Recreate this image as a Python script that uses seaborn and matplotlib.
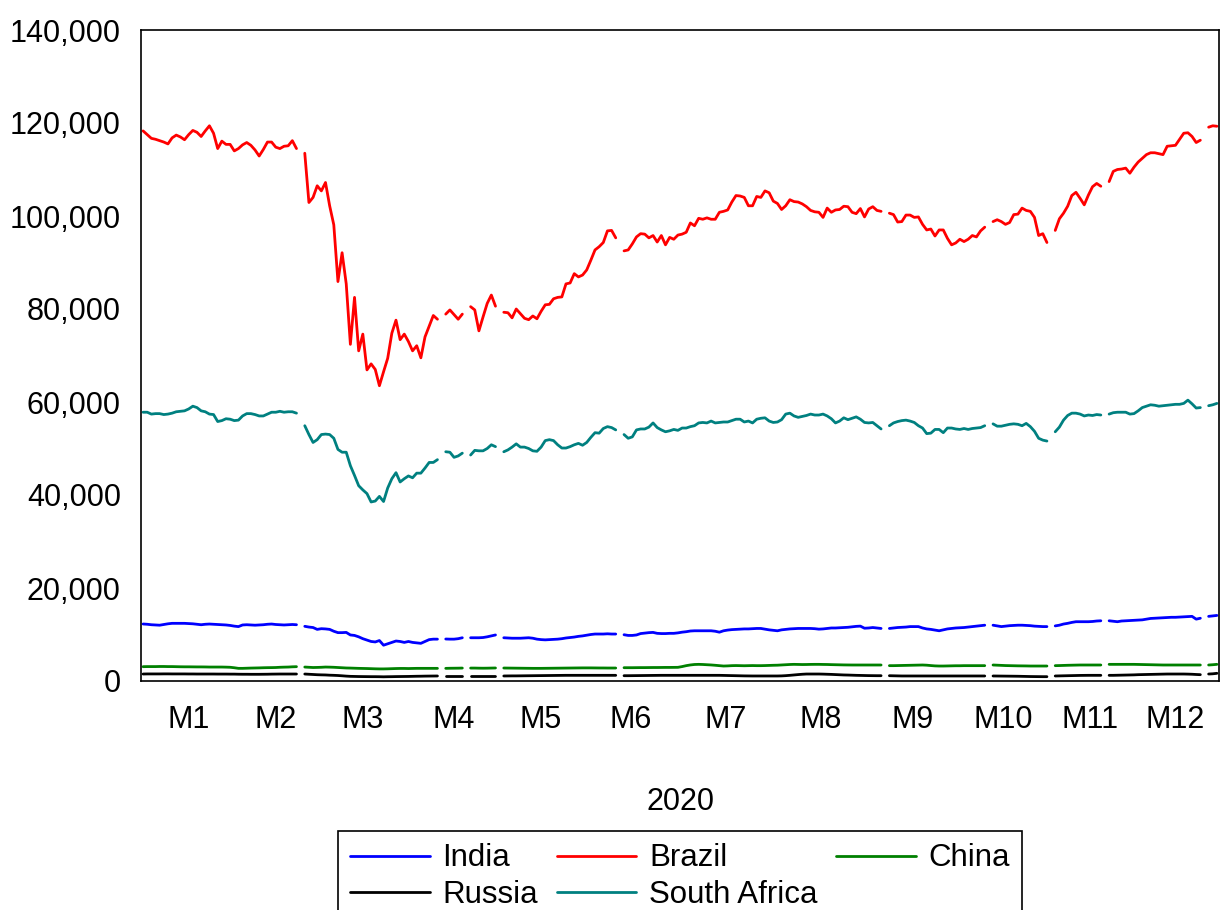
import numpy as np
import pandas as pd
import matplotlib
matplotlib.use("Agg")
import matplotlib.pyplot as plt
import seaborn as sns
from matplotlib.ticker import FuncFormatter
from matplotlib.lines import Line2D

nan = np.nan

# ---------------- data ----------------
month_labels = ["M1", "M2", "M3", "M4", "M5", "M6", "M7", "M8", "M9", "M10", "M11", "M12"]
month_obs = [23, 19, 23, 21, 21, 22, 24, 22, 22, 22, 20, 21]   # observations per month
year_label = "2020"
countries = ["India", "Brazil", "China", "Russia", "South Africa"]
colors = {"India": "#0000ff", "Brazil": "#ff0000", "China": "#008000",
          "Russia": "#000000", "South Africa": "#008080"}

# values in thousands of index points (nan = market holiday)
brazil = [
    118.3, 117.5, 116.7, 116.5, 116.2, 115.9, 115.5, 116.8, 117.4, 117.0,
    116.4, 117.5, 118.4, 118.0, 117.1, 118.3, 119.4, 117.8, 114.5, 116.1,
    115.4, 115.4, 114.0, 114.5, 115.3, 115.8, 115.2, 114.2, 112.9, 114.3,
    115.9, 115.9, 114.8, 114.5, 115.0, 115.1, 116.2, 114.5, nan, 113.5,
    102.9, 104.0, 106.5, 105.4, 107.2, 102.2, 98.1, 85.9, 92.1, 85.4,
    72.4, 82.5, 71.0, 74.6, 66.9, 68.2, 67.0, 63.5, 66.5, 69.4,
    74.8, 77.6, 73.4, 74.6, 73.0, 71.0, 72.1, 69.5, 74.0, 76.3,
    78.6, 77.8, nan, 78.9, 79.8, 78.8, 77.8, 78.9, nan, 80.5,
    79.8, 75.3, 78.3, 81.2, 83.0, 80.6, nan, 79.3, 79.2, 78.1,
    80.0, 79.0, 78.0, 77.7, 78.5, 77.9, 79.5, 80.9, 81.0, 82.2,
    82.5, 82.6, 85.4, 85.6, 87.6, 86.9, 87.3, 88.4, 90.5, 92.7,
    93.4, 94.3, 96.8, 96.9, 95.3, nan, 92.5, 92.7, 94.0, 95.5,
    96.2, 96.1, 95.3, 95.8, 94.4, 95.8, 93.8, 95.4, 95.0, 95.9,
    96.1, 96.5, 98.5, 97.9, 99.5, 99.3, 99.6, 99.3, 99.3, 100.8,
    101.0, 101.3, 103.0, 104.4, 104.3, 104.0, 102.2, 102.2, 104.2, 104.0,
    105.4, 105.0, 103.2, 102.7, 101.4, 102.2, 103.5, 103.1, 103.0, 102.6,
    102.0, 101.2, 100.9, 100.8, 99.7, 101.7, 100.8, 101.3, 101.4, 102.1,
    102.0, 100.8, 100.5, 101.6, 99.8, 101.5, 102.0, 101.2, 101.0, nan,
    100.6, 100.3, 98.7, 98.8, 100.2, 100.2, 99.7, 99.8, 98.2, 97.0,
    97.2, 95.7, 97.0, 97.0, 95.2, 93.8, 94.2, 95.0, 94.5, 95.0,
    95.8, 95.5, 96.8, 97.6, nan, 98.8, 99.2, 98.8, 98.2, 98.6,
    100.3, 100.4, 101.7, 101.2, 101.0, 99.7, 95.8, 96.2, 94.3, nan,
    96.9, 99.4, 100.6, 102.1, 104.4, 105.1, 103.8, 102.4, 104.5, 106.3,
    107.0, 106.4, nan, 107.4, 109.6, 110.0, 110.1, 110.3, 109.2, 110.5,
    111.6, 112.4, 113.2, 113.6, 113.6, 113.4, 113.2, 115.0, 115.1, 115.2,
    116.5, 117.8, 117.9, 117.1, 115.8, 116.3, nan, 119.1, 119.4, 119.3,
]

south_africa = [
    57.8, 57.8, 57.4, 57.5, 57.5, 57.3, 57.4, 57.6, 57.9, 58.0,
    58.1, 58.5, 59.1, 58.8, 58.1, 57.9, 57.4, 57.3, 55.8, 56.0,
    56.4, 56.3, 56.0, 56.1, 57.0, 57.5, 57.5, 57.3, 57.0, 57.0,
    57.4, 57.8, 57.8, 58.0, 57.8, 57.9, 57.9, 57.6, nan, 54.9,
    53.0, 51.3, 51.9, 53.0, 53.1, 53.0, 52.2, 49.8, 49.2, 49.2,
    46.3, 44.2, 42.0, 41.1, 40.3, 38.5, 38.7, 39.7, 38.6, 41.5,
    43.5, 44.8, 42.8, 43.5, 44.1, 43.7, 44.7, 44.7, 45.8, 47.0,
    47.0, 47.6, nan, 49.3, 49.2, 48.1, 48.4, 49.0, nan, 48.6,
    49.6, 49.5, 49.5, 50.0, 50.8, 50.4, nan, 49.3, 49.7, 50.3,
    51.0, 50.3, 50.3, 50.0, 49.5, 49.4, 50.3, 51.7, 51.9, 51.7,
    50.8, 50.1, 50.1, 50.4, 50.8, 51.1, 50.7, 51.3, 52.4, 53.4,
    53.3, 54.3, 54.7, 54.5, 54.0, nan, 53.0, 52.2, 52.5, 54.0,
    54.2, 54.2, 54.6, 55.5, 54.5, 54.0, 53.6, 53.8, 54.1, 53.9,
    54.4, 54.4, 54.7, 54.9, 55.5, 55.6, 55.5, 55.9, 55.5, 55.6,
    55.7, 55.7, 56.0, 56.3, 56.3, 55.7, 55.9, 55.5, 56.3, 56.5,
    56.6, 55.9, 55.6, 55.7, 56.2, 57.4, 57.6, 57.0, 56.7, 56.9,
    57.1, 57.4, 57.2, 57.2, 57.4, 57.0, 56.4, 55.5, 55.9, 56.6,
    56.2, 56.5, 56.8, 56.3, 55.6, 55.5, 55.6, 54.9, 54.2, nan,
    54.9, 55.5, 55.8, 56.0, 56.1, 55.9, 55.6, 54.9, 54.4, 53.2,
    53.3, 54.1, 54.1, 53.4, 54.4, 54.4, 54.2, 54.1, 54.3, 54.1,
    54.3, 54.4, 54.5, 54.9, nan, 55.3, 54.8, 54.8, 55.0, 55.2,
    55.3, 55.2, 54.9, 55.4, 54.7, 53.7, 52.2, 51.8, 51.6, nan,
    53.6, 54.6, 56.1, 57.1, 57.6, 57.6, 57.4, 57.0, 57.2, 57.1,
    57.3, 57.2, nan, 57.4, 57.7, 57.8, 57.8, 57.8, 57.4, 57.5,
    58.1, 58.8, 59.1, 59.4, 59.3, 59.1, 59.2, 59.3, 59.4, 59.5,
    59.5, 59.7, 60.4, 59.6, 58.7, 58.8, nan, 59.2, 59.4, 59.7,
]

india = [
    12.26, 12.2, 12.1, 12.05, 12.0, 12.15, 12.3, 12.4, 12.4, 12.4,
    12.4, 12.35, 12.3, 12.2, 12.1, 12.2, 12.25, 12.2, 12.15, 12.1,
    12.05, 11.95, 11.8, 11.7, 12.05, 12.1, 12.05, 12.0, 12.05, 12.1,
    12.2, 12.25, 12.15, 12.1, 12.05, 12.1, 12.15, 12.1, nan, 11.76,
    11.6, 11.5, 11.1, 11.25, 11.2, 11.1, 10.7, 10.4, 10.4, 10.45,
    9.9, 9.8, 9.5, 9.1, 8.8, 8.5, 8.4, 8.7, 7.7, 8.0,
    8.3, 8.6, 8.5, 8.3, 8.5, 8.3, 8.2, 8.1, 8.5, 8.9,
    9.0, 9.0, nan, 9.03, 9.0, 9.0, 9.1, 9.3, nan, 9.3,
    9.3, 9.3, 9.35, 9.5, 9.7, 9.9, nan, 9.3, 9.25, 9.2,
    9.2, 9.2, 9.25, 9.3, 9.2, 9.0, 8.9, 8.85, 8.9, 8.95,
    9.0, 9.1, 9.25, 9.35, 9.45, 9.6, 9.7, 9.85, 10.0, 10.1,
    10.1, 10.1, 10.15, 10.1, 10.1, nan, 9.95, 9.8, 9.8, 9.9,
    10.2, 10.3, 10.4, 10.45, 10.25, 10.2, 10.2, 10.25, 10.25, 10.35,
    10.5, 10.6, 10.75, 10.8, 10.8, 10.8, 10.8, 10.8, 10.7, 10.5,
    10.8, 10.95, 11.05, 11.1, 11.15, 11.2, 11.2, 11.25, 11.3, 11.3,
    11.15, 11.0, 10.9, 10.8, 11.0, 11.1, 11.2, 11.25, 11.3, 11.3,
    11.3, 11.3, 11.25, 11.15, 11.2, 11.3, 11.4, 11.4, 11.45, 11.5,
    11.55, 11.65, 11.75, 11.8, 11.35, 11.4, 11.5, 11.4, 11.3, nan,
    11.3, 11.4, 11.5, 11.55, 11.6, 11.7, 11.7, 11.7, 11.4, 11.2,
    11.1, 10.95, 10.8, 11.0, 11.2, 11.3, 11.4, 11.45, 11.5, 11.6,
    11.7, 11.8, 11.9, 12.0, nan, 12.0, 11.85, 11.7, 11.8, 11.9,
    11.95, 12.0, 12.0, 11.95, 11.9, 11.8, 11.75, 11.7, 11.7, nan,
    11.85, 12.0, 12.25, 12.4, 12.6, 12.75, 12.75, 12.75, 12.75, 12.8,
    12.9, 12.95, nan, 12.95, 12.85, 12.75, 12.9, 12.95, 13.0, 13.05,
    13.1, 13.15, 13.3, 13.45, 13.5, 13.55, 13.6, 13.65, 13.7, 13.7,
    13.75, 13.8, 13.85, 13.9, 13.3, 13.5, nan, 13.9, 14.0, 14.1,
]

china = [
    3.08, 3.10, 3.10, 3.10, 3.12, 3.12, 3.10, 3.10, 3.08, 3.06,
    3.05, 3.05, 3.04, 3.03, 3.03, 3.02, 3.00, 3.00, 3.00, 3.00,
    2.98, 2.95, 2.85, 2.72, 2.72, 2.75, 2.78, 2.80, 2.82, 2.85,
    2.87, 2.88, 2.90, 2.95, 2.98, 3.00, 3.05, 3.08, nan, 3.00,
    2.95, 2.90, 2.92, 2.95, 3.00, 2.98, 2.95, 2.90, 2.85, 2.80,
    2.78, 2.75, 2.72, 2.70, 2.68, 2.65, 2.62, 2.60, 2.60, 2.62,
    2.65, 2.68, 2.70, 2.70, 2.68, 2.70, 2.72, 2.72, 2.72, 2.72,
    2.72, 2.72, nan, 2.72, 2.74, 2.75, 2.76, 2.78, nan, 2.78,
    2.78, 2.76, 2.75, 2.76, 2.78, 2.80, nan, 2.79, 2.78, 2.77,
    2.76, 2.75, 2.74, 2.73, 2.72, 2.72, 2.72, 2.73, 2.74, 2.75,
    2.76, 2.77, 2.78, 2.79, 2.80, 2.81, 2.82, 2.82, 2.82, 2.81,
    2.80, 2.80, 2.79, 2.79, 2.79, nan, 2.86, 2.86, 2.86, 2.87,
    2.88, 2.88, 2.89, 2.90, 2.90, 2.91, 2.92, 2.92, 2.93, 2.94,
    3.10, 3.30, 3.45, 3.55, 3.58, 3.55, 3.50, 3.45, 3.38, 3.30,
    3.22, 3.25, 3.30, 3.32, 3.30, 3.28, 3.30, 3.32, 3.30, 3.30,
    3.32, 3.35, 3.38, 3.40, 3.45, 3.50, 3.55, 3.58, 3.56, 3.54,
    3.55, 3.57, 3.58, 3.58, 3.56, 3.55, 3.52, 3.50, 3.48, 3.46,
    3.45, 3.44, 3.44, 3.44, 3.44, 3.44, 3.44, 3.44, 3.44, nan,
    3.30, 3.30, 3.32, 3.34, 3.36, 3.38, 3.40, 3.42, 3.44, 3.40,
    3.32, 3.25, 3.22, 3.22, 3.24, 3.26, 3.28, 3.28, 3.30, 3.30,
    3.30, 3.30, 3.30, 3.30, nan, 3.44, 3.40, 3.36, 3.32, 3.30,
    3.28, 3.26, 3.25, 3.24, 3.22, 3.22, 3.22, 3.22, 3.22, nan,
    3.30, 3.32, 3.35, 3.38, 3.40, 3.42, 3.44, 3.44, 3.44, 3.44,
    3.44, 3.44, nan, 3.58, 3.58, 3.58, 3.58, 3.58, 3.58, 3.58,
    3.56, 3.54, 3.52, 3.50, 3.48, 3.46, 3.44, 3.44, 3.44, 3.44,
    3.44, 3.44, 3.44, 3.44, 3.44, 3.44, nan, 3.44, 3.50, 3.58,
]

russia = [
    1.50, 1.52, 1.52, 1.52, 1.52, 1.53, 1.53, 1.52, 1.52, 1.52,
    1.52, 1.51, 1.51, 1.50, 1.50, 1.50, 1.50, 1.50, 1.49, 1.49,
    1.49, 1.48, 1.48, 1.46, 1.45, 1.45, 1.44, 1.44, 1.44, 1.45,
    1.46, 1.48, 1.49, 1.50, 1.50, 1.50, 1.50, 1.50, nan, 1.50,
    1.45, 1.40, 1.35, 1.32, 1.30, 1.25, 1.22, 1.18, 1.12, 1.05,
    1.00, 0.98, 0.96, 0.95, 0.94, 0.93, 0.93, 0.92, 0.90, 0.92,
    0.93, 0.95, 0.96, 0.97, 0.98, 1.00, 1.02, 1.03, 1.05, 1.06,
    1.07, 1.08, nan, 1.08, 1.08, 1.08, 1.08, 1.08, nan, 1.08,
    1.08, 1.08, 1.08, 1.08, 1.08, 1.08, nan, 1.08, 1.09, 1.10,
    1.10, 1.11, 1.12, 1.13, 1.14, 1.15, 1.16, 1.17, 1.18, 1.19,
    1.20, 1.21, 1.22, 1.22, 1.22, 1.22, 1.22, 1.22, 1.22, 1.22,
    1.22, 1.22, 1.22, 1.22, 1.22, nan, 1.14, 1.14, 1.15, 1.16,
    1.17, 1.18, 1.19, 1.20, 1.21, 1.22, 1.22, 1.22, 1.22, 1.22,
    1.22, 1.22, 1.22, 1.22, 1.22, 1.22, 1.22, 1.22, 1.22, 1.22,
    1.20, 1.18, 1.16, 1.14, 1.12, 1.10, 1.09, 1.08, 1.08, 1.08,
    1.08, 1.08, 1.08, 1.08, 1.10, 1.15, 1.22, 1.30, 1.38, 1.45,
    1.50, 1.50, 1.50, 1.50, 1.48, 1.45, 1.42, 1.38, 1.34, 1.30,
    1.28, 1.25, 1.22, 1.20, 1.18, 1.16, 1.15, 1.14, 1.14, nan,
    1.14, 1.12, 1.10, 1.08, 1.08, 1.08, 1.08, 1.08, 1.08, 1.08,
    1.08, 1.08, 1.08, 1.08, 1.08, 1.08, 1.08, 1.08, 1.08, 1.08,
    1.08, 1.08, 1.08, 1.08, nan, 1.08, 1.07, 1.06, 1.05, 1.04,
    1.03, 1.02, 1.00, 0.98, 0.96, 0.95, 0.94, 0.93, 0.93, nan,
    1.08, 1.10, 1.12, 1.14, 1.16, 1.18, 1.20, 1.21, 1.22, 1.22,
    1.22, 1.22, nan, 1.22, 1.22, 1.24, 1.26, 1.28, 1.30, 1.32,
    1.36, 1.38, 1.40, 1.42, 1.44, 1.46, 1.48, 1.50, 1.50, 1.50,
    1.50, 1.50, 1.48, 1.45, 1.40, 1.36, nan, 1.50, 1.55, 1.65,
]

series = {"India": india, "Brazil": brazil, "China": china,
          "Russia": russia, "South Africa": south_africa}

# ---------------- long table ----------------
frames = []
for name in countries:
    v = np.asarray(series[name], dtype=float) * 1000.0
    obs = np.arange(len(v))
    seg = np.cumsum(np.isnan(v))          # new line segment after each missing value
    frames.append(pd.DataFrame({"obs": obs, "value": v, "country": name, "segment": seg}))
df = pd.concat(frames, ignore_index=True).dropna()
n_obs = sum(month_obs)

# ---------------- figure ----------------
sns.set_style("white")
plt.rcParams["font.family"] = ["Liberation Sans", "DejaVu Sans"]
plt.rcParams["text.color"] = "black"
plt.rcParams["axes.labelcolor"] = "black"
plt.rcParams["xtick.color"] = "black"
plt.rcParams["ytick.color"] = "black"
FS = 22
LW = 2.0

fig = plt.figure(figsize=(12.21, 9.10), dpi=100)
ax = fig.add_axes([141 / 1221, 1 - 681 / 910, (1219 - 141) / 1221, (681 - 30) / 910])

sns.lineplot(data=df, x="obs", y="value", hue="country", units="segment",
             estimator=None, palette=colors, hue_order=countries,
             linewidth=LW, legend=False, ax=ax)

ax.set_xlim(-0.5, n_obs - 0.5)
ax.set_ylim(0, 140000)
ax.set_yticks(np.arange(0, 140001, 20000))
ax.yaxis.set_major_formatter(FuncFormatter(lambda v, p: f"{int(v):,}"))

starts = np.concatenate([[0], np.cumsum(month_obs)[:-1]])
bounds = starts[1:] - 0.5
centers = starts + np.asarray(month_obs) / 2.0 - 0.5
ax.set_xticks(bounds)
ax.set_xticklabels([])
ax.set_xticks(centers, minor=True)
ax.set_xticklabels(month_labels, minor=True)

ax.tick_params(axis="y", which="major", direction="out", length=7.5, width=1.1,
               labelsize=FS, pad=7, color="black", labelcolor="black")
ax.tick_params(axis="x", which="major", direction="out", length=5.5, width=1.1, color="black")
ax.tick_params(axis="x", which="minor", length=0, labelsize=FS, pad=17, labelcolor="black")

for s in ax.spines.values():
    s.set_visible(True)
    s.set_color("black")
    s.set_linewidth(1.2)

ax.set_xlabel(year_label, fontsize=FS, labelpad=38, color="black")
ax.set_ylabel("")

handles = {c: Line2D([0], [0], color=colors[c], lw=LW) for c in countries}
order = ["India", "Russia", "Brazil", "South Africa", "China"]
leg = fig.legend([handles[c] for c in order], order, ncol=3, loc="upper center",
                 bbox_to_anchor=(680 / 1221, 1 - 831 / 910), frameon=True,
                 fancybox=False, edgecolor="black", framealpha=1, fontsize=22.5,
                 handlelength=2.55, handletextpad=0.4, columnspacing=0.6,
                 borderpad=0.4, labelspacing=0.2, borderaxespad=0,
                 labelcolor="black")
leg.get_frame().set_linewidth(1.2)

fig.savefig("out.png", dpi=100)
